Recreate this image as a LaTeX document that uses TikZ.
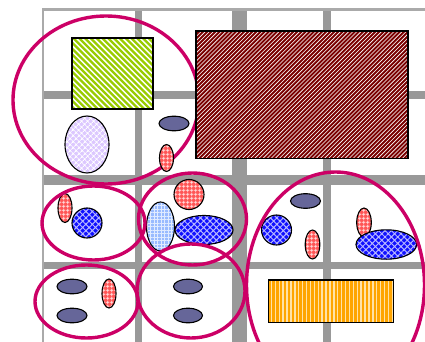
\documentclass[tikz,border=0pt]{standalone}
\usetikzlibrary{patterns.meta}
\definecolor{grp}{HTML}{CC0066}
\definecolor{gridc}{HTML}{999999}
\definecolor{bordc}{HTML}{AAAAAA}
\definecolor{ygreen}{HTML}{99CC00}
\definecolor{dred}{HTML}{7A0000}
\definecolor{orng}{HTML}{FFA500}
\definecolor{lorng}{HTML}{FFE2A8}
\definecolor{salm}{HTML}{FF5555}
\definecolor{blu}{HTML}{1010FF}
\definecolor{lblu}{HTML}{99BBFF}
\definecolor{lav}{HTML}{DCC8FF}
\definecolor{slate}{HTML}{666699}
\tikzset{
  gline/.style={draw=gridc},
  bord/.style={draw=bordc, line width=2.6pt},
  grpov/.style={draw=grp, line width=3.4pt},
  outl/.style={draw=black, line width=1.1pt},
  greenstripe/.style={draw=ygreen, line width=2.3pt},
  brownstripe/.style={draw=dred, line width=1.95pt},
  orangestripe/.style={draw=orng, line width=2.5pt},
  redov/.style={outl, preaction={fill=salm}, pattern={Hatch[angle=0,distance=4pt,line width=0.9pt]}, pattern color=white!85!salm},
  bluov/.style={outl, preaction={fill=blu}, pattern={Hatch[angle=45,distance=4.5pt,line width=1pt]}, pattern color=white!70!blu},
  lbluov/.style={outl, preaction={fill=lblu}, pattern={Hatch[angle=0,distance=3.5pt,line width=0.8pt]}, pattern color=white!70!lblu},
  lavov/.style={outl, preaction={fill=lav}, pattern={Hatch[angle=45,distance=4pt,line width=0.9pt]}, pattern color=white},
  slateov/.style={outl, fill=slate},
}
\begin{document}
\begin{tikzpicture}[x=1pt,y=-1pt]
\useasboundingbox (0,0) rectangle (425,342);
\clip (0,0) rectangle (425,342);
% grid
\draw[bord] (43,342) -- (43,9.5) -- (425,9.5);
\draw[gline, line width=7pt] (138,11) -- (138,342);
\draw[gline, line width=15pt] (239.5,11) -- (239.5,342);
\draw[gline, line width=8pt] (327,11) -- (327,342);
\draw[gline, line width=8pt] (44.3,95) -- (425,95);
\draw[gline, line width=10pt] (44.3,179.5) -- (425,179.5);
\draw[gline, line width=7pt] (44.3,265.5) -- (425,265.5);
% top-left group outline
\draw[grpov] (106,100) ellipse [x radius=93pt, y radius=84pt];
% green striped rectangle
\begin{scope}
  \clip (72,38) rectangle (153,109);
  \fill[white] (72,38) rectangle (153,109);
  \foreach \i in {0,...,28} \draw[greenstripe] (72-80+\i*5.8,38) -- ++(90,90);
\end{scope}
\draw[outl] (72,38) rectangle (153,109);
% dark red striped rectangle
\begin{scope}
  \clip (196,31) rectangle (408,158.5);
  \fill[white] (196,31) rectangle (408,158.5);
  \foreach \i in {0,...,88} \draw[brownstripe] (196-132+\i*4.1,158.5) -- ++(140,-140);
\end{scope}
\draw[outl] (196,31) rectangle (408,158.5);
% orange striped rectangle
\begin{scope}
  \clip (268.5,280) rectangle (393.3,322.7);
  \fill[lorng] (268.5,280) rectangle (393.3,322.7);
  \foreach \i in {0,...,32} \draw[orangestripe] (269.5+\i*3.9,279) -- ++(0,45);
\end{scope}
\draw[outl] (268.5,280) rectangle (393.3,322.7);
% row 1 shapes
\draw[lavov] (87,144.5) ellipse [x radius=22pt, y radius=28.5pt];
\draw[slateov] (174,123.5) ellipse [x radius=15pt, y radius=7.3pt];
\draw[redov] (166.5,158) ellipse [x radius=7pt, y radius=13.5pt];
% row 2 left
\draw[redov] (65,208) ellipse [x radius=7pt, y radius=14.5pt];
\draw[bluov] (87,223) circle [radius=15pt];
% row 2 centre
\draw[redov] (189,194.5) circle [radius=15pt];
\draw[bluov] (204,230) ellipse [x radius=29pt, y radius=14.5pt];
\draw[lbluov] (160.5,226.5) ellipse [x radius=14pt, y radius=24.5pt];
% row 3
\draw[slateov] (72,286.5) ellipse [x radius=15pt, y radius=7.3pt];
\draw[slateov] (72,315.5) ellipse [x radius=15pt, y radius=7.3pt];
\draw[redov] (109,293.5) ellipse [x radius=7pt, y radius=14.5pt];
\draw[slateov] (188,286.5) ellipse [x radius=14.5pt, y radius=7.3pt];
\draw[slateov] (188,315.5) ellipse [x radius=14.5pt, y radius=7.3pt];
% right region
\draw[slateov] (305.5,201) ellipse [x radius=15pt, y radius=7.3pt];
\draw[bluov] (276.5,230) circle [radius=15pt];
\draw[redov] (312.5,244.5) ellipse [x radius=7.3pt, y radius=14.5pt];
\draw[redov] (364,222.5) ellipse [x radius=7.3pt, y radius=14.5pt];
\draw[bluov] (386.3,244.5) ellipse [x radius=30.3pt, y radius=14.7pt];
% group outlines
\draw[grpov] (93.5,223) ellipse [x radius=51.5pt, y radius=37pt];
\draw[grpov] (192.5,219) ellipse [x radius=54pt, y radius=46pt];
\draw[grpov] (86.5,301.5) ellipse [x radius=51.5pt, y radius=36.5pt];
\draw[grpov] (191,291) ellipse [x radius=54pt, y radius=47pt];
\draw[grpov] (335.5,285) ellipse [x radius=89pt, y radius=113pt];
\end{tikzpicture}
\end{document}
